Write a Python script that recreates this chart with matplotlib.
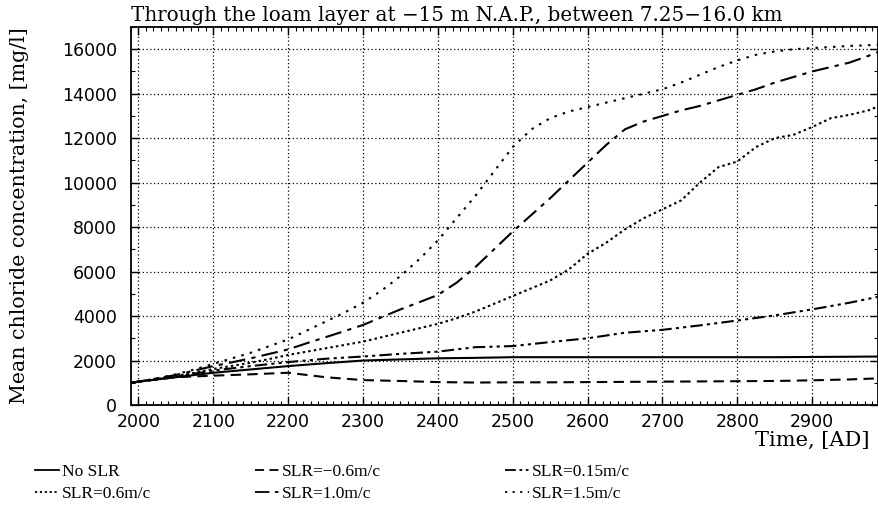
import numpy as np
import matplotlib
matplotlib.use("Agg")
import matplotlib.pyplot as plt
from matplotlib.lines import Line2D
from matplotlib.ticker import MultipleLocator

# coarse time axis for the slow curves, fine one for the steep ones
years_coarse = [1990, 2000, 2050, 2100, 2150, 2200, 2250, 2300, 2350, 2400, 2450, 2500,
                2550, 2600, 2650, 2700, 2750, 2800, 2850, 2900, 2950, 2990]
years_fine = [1990] + list(range(2000, 2976, 25)) + [2990]

no_slr = [1000, 1050, 1250, 1450, 1600, 1750, 1880, 2000, 2050, 2100, 2120, 2150,
          2150, 2150, 2150, 2150, 2150, 2150, 2150, 2160, 2170, 2180]
slr_m06 = [1000, 1050, 1250, 1320, 1380, 1450, 1250, 1120, 1080, 1030, 1010, 1020,
           1020, 1030, 1040, 1050, 1060, 1070, 1080, 1110, 1150, 1200]
slr_015 = [1000, 1050, 1280, 1550, 1750, 1930, 2080, 2180, 2300, 2400, 2600, 2650,
           2830, 3000, 3250, 3380, 3580, 3800, 4030, 4300, 4600, 4880]

slr_06 = [1000, 1050, 1170, 1300, 1450, 1620, 1760, 1900, 2070, 2250, 2400, 2550, 2700,
          2850, 3050, 3250, 3450, 3650, 3900, 4200, 4550, 4900, 5250, 5600, 6100, 6800,
          7300, 7900, 8400, 8800, 9200, 10000, 10700, 10950, 11600, 12000, 12150, 12500,
          12900, 13050, 13250, 13450]
slr_10 = [1000, 1050, 1200, 1350, 1550, 1750, 1920, 2100, 2300, 2500, 2780, 3050, 3320,
          3600, 3950, 4300, 4620, 4950, 5500, 6200, 7000, 7800, 8550, 9300, 10100, 10900,
          11700, 12400, 12750, 13000, 13250, 13450, 13700, 13950, 14200, 14500, 14750,
          15000, 15200, 15400, 15700, 15900]
slr_15 = [1000, 1050, 1200, 1380, 1600, 1850, 2100, 2350, 2650, 2950, 3350, 3750, 4150,
          4600, 5150, 5800, 6550, 7400, 8400, 9400, 10500, 11600, 12400, 12900, 13200,
          13400, 13600, 13800, 14000, 14200, 14500, 14850, 15200, 15500, 15750, 15900,
          16000, 16050, 16100, 16150, 16180, 16200]

labels = ["No SLR", "SLR=\u22120.6m/c", "SLR=0.15m/c",
          "SLR=0.6m/c", "SLR=1.0m/c", "SLR=1.5m/c"]
styles = ["-", (0, (5, 3)), (0, (6, 2, 1.5, 2, 1.5, 2)),
          (0, (1.2, 1.5)), (0, (8, 3, 2, 3)), (0, (1.2, 3))]

serif = "DejaVu Serif"

fig = plt.figure(figsize=(8.79, 5.14), dpi=100)
ax = fig.add_axes([131 / 879, 1 - 405 / 514, 747 / 879, (405 - 27) / 514])

series = [(years_coarse, no_slr), (years_coarse, slr_m06), (years_coarse, slr_015),
          (years_fine, slr_06), (years_fine, slr_10), (years_fine, slr_15)]
for (x, y), ls in zip(series, styles):
    ax.plot(x, y, color="black", linestyle=ls, linewidth=1.5)

ax.set_xlim(1990, 2988)
ax.set_ylim(0, 17000)
ax.xaxis.set_major_locator(MultipleLocator(100))
ax.xaxis.set_minor_locator(MultipleLocator(10))
ax.yaxis.set_major_locator(MultipleLocator(2000))
ax.yaxis.set_minor_locator(MultipleLocator(1000))
ax.set_xticks(range(2000, 2901, 100))
ax.tick_params(which="both", direction="in", top=True, right=True, labelsize=12.5,
               color="black")
ax.tick_params(axis="y", pad=10)
ax.tick_params(axis="x", pad=6)
ax.tick_params(which="major", length=6, width=1)
ax.tick_params(which="minor", length=3, width=0.8)
ax.grid(True, which="major", color="black", linestyle=(0, (1, 2)), linewidth=0.9)
for s in ax.spines.values():
    s.set_linewidth(1.3)

ax.text(0.0, 1.004, "Through the loam layer at \u221215 m N.A.P., between 7.25\u221216.0 km",
        transform=ax.transAxes, ha="left", va="bottom", fontsize=14.3, family=serif)
ax.set_ylabel("Mean chloride concentration, [mg/l]", fontsize=14.8, family=serif)
ax.yaxis.set_label_coords(-0.137, 0.5)
fig.text(870 / 879, 1 - 440 / 514, "Time, [AD]", ha="right", va="center",
         fontsize=15, family=serif)

# legend: three columns, two rows
handles = [Line2D([], [], color="black", linestyle=ls, linewidth=1.3) for ls in styles]
col_x = [19 / 879, 239 / 879, 489 / 879]
for i, cx in enumerate(col_x):
    fig.legend([handles[i], handles[i + 3]], [labels[i], labels[i + 3]],
               loc="upper left", bbox_to_anchor=(cx, 1 - 448 / 514), frameon=False,
               handlelength=1.4, handletextpad=0.15, labelspacing=0.35,
               prop={"family": "Liberation Serif", "size": 12.5})

fig.savefig("out.png", dpi=100)
